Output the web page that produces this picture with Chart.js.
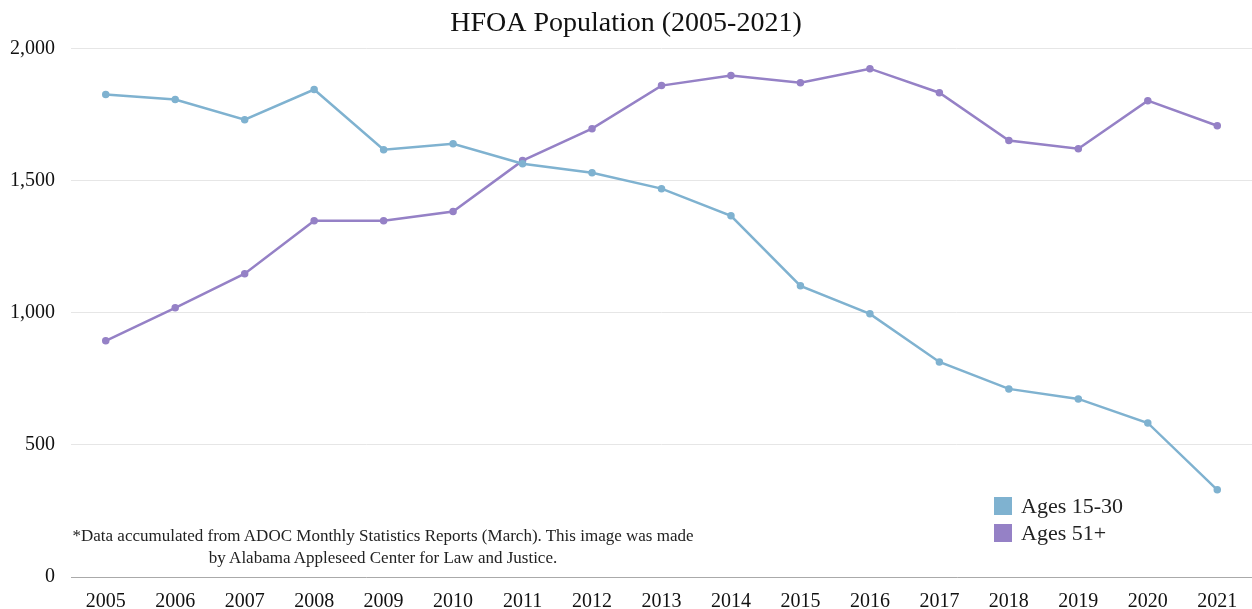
<!DOCTYPE html>
<html>
<head>
<meta charset="utf-8">
<script src="https://cdn.jsdelivr.net/npm/chart.js@4/dist/chart.umd.min.js"></script>
<style>
  html, body { margin: 0; padding: 0; background: #fff; overflow: hidden; }
  #wrap { position: relative; width: 1252px; height: 609px; font-family: "Liberation Serif", "Times New Roman", serif; color: #222; }
  #nota { position: absolute; left: 60px; top: 525px; width: 646px; text-align: center; font-size: 17px; line-height: 22px; }
  #legenda { position: absolute; left: 994px; top: 492px; font-size: 22px; }
  #legenda div { display: flex; align-items: center; height: 27px; }
  #legenda span.caixa { display: inline-block; width: 18px; height: 18px; margin-right: 9px; }
</style>
</head>
<body>
<div id="wrap">
  <canvas id="grafico" width="1252" height="609"></canvas>
  <div id="nota">*Data accumulated from ADOC Monthly Statistics Reports (March). This image was made<br>by Alabama Appleseed Center for Law and Justice.</div>
  <div id="legenda"></div>
</div>
<script>
const anos = ['2005', '2006', '2007', '2008', '2009', '2010', '2011', '2012', '2013',
  '2014', '2015', '2016', '2017', '2018', '2019', '2020', '2021'];
const idades15a30 = [1826, 1807, 1731, 1845, 1617, 1640, 1564, 1530, 1470,
  1367, 1102, 996, 814, 712, 674, 583, 330];
const idades51mais = [894, 1019, 1148, 1348, 1348, 1383, 1576, 1697, 1860,
  1898, 1871, 1924, 1833, 1652, 1621, 1803, 1708];
const rotulos = ['Ages 15-30', 'Ages 51+'];
const cores = ['#7fb2d0', '#9581c6'];

const fonte = "'Liberation Serif', 'Times New Roman', serif";

function serie(i, valores) {
  return {
    label: rotulos[i],
    data: valores,
    borderColor: cores[i],
    backgroundColor: cores[i],
    borderWidth: 2.5,
    pointRadius: 2.5,
    pointHoverRadius: 2.5,
    tension: 0
  };
}

const ctx = document.getElementById('grafico').getContext('2d');
const chart = new Chart(ctx, {
  type: 'line',
  data: {
    labels: anos,
    datasets: [serie(0, idades15a30), serie(1, idades51mais)]
  },
  options: {
    responsive: false,
    animation: false,
    layout: { padding: 0, autoPadding: false },
    plugins: {
      legend: { display: false },
      tooltip: { enabled: false },
      title: {
        display: true,
        text: 'HFOA Population (2005-2021)',
        color: '#111',
        font: { family: fonte, size: 28, weight: 'normal' },
        padding: { top: 7, bottom: 8 }
      }
    },
    scales: {
      x: {
        offset: true,
        grid: { display: false, drawTicks: false },
        border: { color: '#aaa', width: 1 },
        ticks: { color: '#111', font: { family: fonte, size: 20 }, padding: 13, maxRotation: 0 },
        afterFit: s => { s.height = 32; }
      },
      y: {
        min: 0,
        max: 2000,
        grid: { color: '#e6e6e6', drawTicks: false },
        border: { display: false },
        ticks: {
          stepSize: 500,
          padding: 16,
          color: '#111',
          font: { family: fonte, size: 20 },
          callback: v => v.toLocaleString('en-US')
        },
        afterFit: s => { s.width = 71; }
      }
    }
  }
});

const legenda = document.getElementById('legenda');
chart.data.datasets.forEach(d => {
  const linha = document.createElement('div');
  linha.innerHTML = `<span class="caixa" style="background:${d.borderColor}"></span>${d.label}`;
  legenda.appendChild(linha);
});
</script>
</body>
</html>
